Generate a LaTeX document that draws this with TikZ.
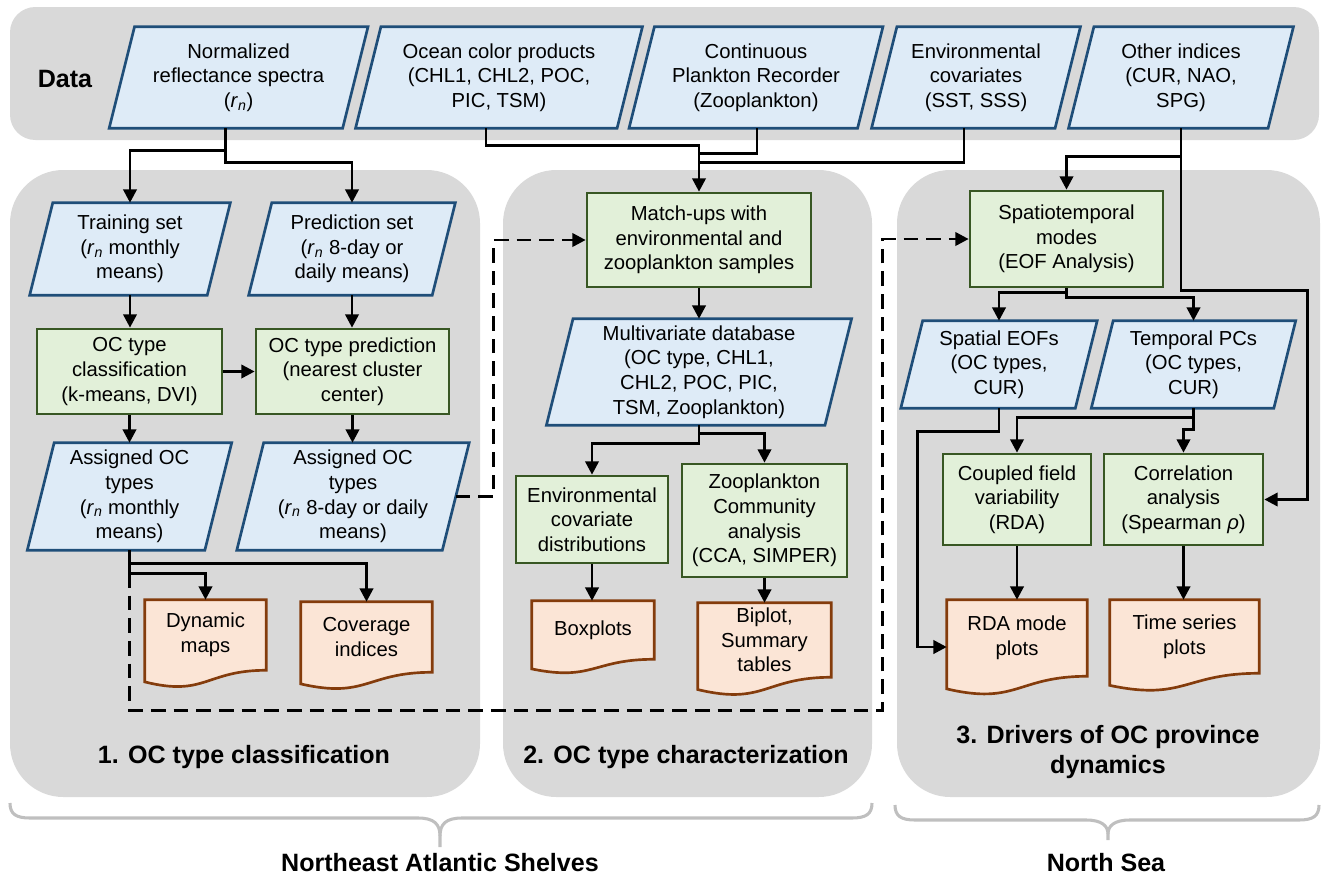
\documentclass[tikz,border=0pt]{standalone}
\usepackage{fontspec}
\setmainfont{Liberation Sans}
\usetikzlibrary{arrows.meta,calc}
\pgfdeclarelayer{bg}
\pgfdeclarelayer{shp}
\pgfsetlayers{bg,shp,main}
\definecolor{panelgray}{HTML}{D9D9D9}
\definecolor{blueF}{HTML}{DEEBF7}
\definecolor{blueB}{HTML}{1F4E79}
\definecolor{greenF}{HTML}{E2F0D9}
\definecolor{greenB}{HTML}{385723}
\definecolor{docF}{HTML}{FBE5D6}
\definecolor{docB}{HTML}{843C0C}
\definecolor{braceC}{HTML}{BFBFBF}
\newcommand\bodyfont{\fontsize{15.2pt}{18.4pt}\selectfont}
\newcommand\headfont{\fontsize{18.8pt}{22.5pt}\selectfont\bfseries}
\newcommand\rn{\textit{r}\textsubscript{\textit{n}}}
\tikzset{
 tbox/.style={inner sep=0pt, align=center, font=\bodyfont, text=black},
 sz/.style 2 args={minimum width=#1*0.75pt, minimum height=#2*0.75pt},
 pnode/.style={tbox, rectangle},
 gbox/.style={tbox, rectangle, draw=greenB, fill=greenF, line width=2pt},
 dnode/.style={tbox, rectangle},
 parashape/.style={draw=blueB, fill=blueF, line width=2pt},
 docshape/.style={draw=docB, fill=docF, line width=2pt},
 panel/.style={fill=panelgray, draw=none},
 conn/.style={line width=2.1pt, draw=black},
 arr/.style={conn, -{Triangle[length=10pt,width=10pt]}},
 dasharr/.style={arr, dash pattern=on 11pt off 6pt},
 head/.style={font=\headfont, align=center, inner sep=0pt},
 bracestyle/.style={draw=braceC, line width=2.3pt}
}
\newcommand\paral[1]{%
 \begin{pgfonlayer}{shp}
 \path[parashape] let \p1=(#1.north east), \p2=(#1.south west), \n1={0.125*(\y1-\y2)} in
 ({\x2+\n1*1pt},\y1) -- ({\x1+\n1*1pt},\y1) -- ({\x1-\n1*1pt},\y2) -- ({\x2-\n1*1pt},\y2) -- cycle;
 \end{pgfonlayer}}
\newcommand\docu[1]{%
 \begin{pgfonlayer}{shp}
 \path[docshape] (#1.north west) -- (#1.north east) -- (#1.south east) .. controls (#1.south) and ($(#1.north)!1.38!(#1.south)$) .. ($(#1.north west)!1.1646!(#1.south west)$) -- cycle;
 \end{pgfonlayer}}
\begin{document}
\begin{tikzpicture}[x=0.75pt,y=-0.75pt]
\useasboundingbox (0,0) rectangle (1321,875);
\begin{pgfonlayer}{bg}
\path[panel, rounded corners=19pt] (10,7) rectangle (1319,140);
\path[panel, rounded corners=40pt] (10,170) rectangle (480,797);
\path[panel, rounded corners=40pt] (503,170) rectangle (872,797);
\path[panel, rounded corners=40pt] (897,170) rectangle (1320,797);
\end{pgfonlayer}

\node[head] (datalbl) at (65,79) {Data};

% data row
\node[pnode, sz={233}{101}] (norm) at (238.6,77.5) {Normalized\\reflectance spectra\\(\rn)}; \paral{norm}
\node[pnode, sz={261}{101}] (ocean) at (499,77.5) {Ocean color products\\(CHL1, CHL2, POC,\\PIC, TSM)}; \paral{ocean}
\node[pnode, sz={228}{101}] (cpr) at (756,77.5) {Continuous\\Plankton Recorder\\(Zooplankton)}; \paral{cpr}
\node[pnode, sz={183}{101}] (env) at (976,77.5) {Environmental\\covariates\\(SST, SSS)}; \paral{env}
\node[pnode, sz={199}{101}] (other) at (1181,77.5) {Other indices\\(CUR, NAO,\\SPG)}; \paral{other}

% panel 1
\node[pnode, sz={177}{92}] (train) at (130,249) {Training set\\(\rn\ monthly\\means)}; \paral{train}
\node[pnode, sz={183}{92}] (pred) at (352,249) {Prediction set\\(\rn\ 8-day or\\daily means)}; \paral{pred}
\node[gbox, sz={185}{85}] (occlass) at (129.5,371.5) {OC type\\classification\\(k-means, DVI)};
\node[gbox, sz={193}{85}] (ocpred) at (352.5,371.5) {OC type prediction\\(nearest cluster\\center)};
\node[pnode, sz={177}{107}] (asgL) at (129.5,496.5) {Assigned OC\\types\\(\rn\ monthly\\means)}; \paral{asgL}
\node[pnode, sz={205}{107}] (asgR) at (353,496.5) {Assigned OC\\types\\(\rn\ 8-day or daily\\means)}; \paral{asgR}
\node[dnode, sz={121}{70}] (dyn) at (205.5,635) {Dynamic\\maps}; \docu{dyn}
\node[dnode, sz={131}{70}] (cov) at (366.5,637) {Coverage\\indices}; \docu{cov}

% panel 2
\node[gbox, sz={224}{94}] (match) at (699,240) {Match-ups with\\environmental and\\zooplankton samples};
\node[pnode, sz={278}{106}] (multi) at (699,372) {Multivariate database\\(OC type, CHL1,\\CHL2, POC, PIC,\\TSM, Zooplankton)}; \paral{multi}
\node[gbox, sz={152}{87}] (envd) at (592,519.5) {Environmental\\covariate\\distributions};
\node[gbox, sz={165}{113}] (zca) at (764.5,520.5) {Zooplankton\\Community\\analysis\\(CCA, SIMPER)};
\node[dnode, sz={122}{58}] (box) at (593,630) {Boxplots}; \docu{box}
\node[dnode, sz={133}{74}] (biplot) at (764.5,640) {Biplot,\\Summary\\tables}; \docu{biplot}

% panel 3
\node[gbox, sz={193}{96}] (spatio) at (1066.5,239) {Spatiotemporal\\modes\\(EOF Analysis)};
\node[pnode, sz={174}{87}] (seof) at (999,364.5) {Spatial EOFs\\(OC types,\\CUR)}; \paral{seof}
\node[pnode, sz={182}{87}] (tpc) at (1193.5,364.5) {Temporal PCs\\(OC types,\\CUR)}; \paral{tpc}
\node[gbox, sz={148}{91}] (coupled) at (1017,499.5) {Coupled field\\variability\\(RDA)};
\node[gbox, sz={159}{91}] (corr) at (1183.5,499.5) {Correlation\\analysis\\(Spearman \textit{ρ})};
\node[dnode, sz={140}{76}] (rda) at (1017,638) {RDA mode\\plots}; \docu{rda}
\node[dnode, sz={149}{73}] (ts) at (1184.5,636.5) {Time series\\plots}; \docu{ts}

% titles
\node[head] (t1) at (244,757) {1. OC type classification};
\node[head] (t2) at (686,757) {2. OC type characterization};
\node[head] (t3) at (1108,752) {3. Drivers of OC province\\dynamics};
\node[head] (nas) at (440,863) {Northeast Atlantic Shelves};
\node[head] (ns) at (1106,863) {North Sea};

% connectors
\draw[arr] ($(norm.south)+(-13,0)$) |- ($(train.north)+(0,-52)$) -- (train.north);
\draw[arr] ($(norm.south)+(-13,0)$) |- ($(pred.north)+(0,-40)$) -- (pred.north);
\draw[arr] ($(ocean.south)+(-13,0)$) |- ($(match.north)+(0,-46)$) -- (match.north);
\draw[conn] ($(cpr.south)+(1,0)$) |- ($(match.north)+(0,-38)$);
\draw[conn] ($(env.south)+(-12,0)$) |- ($(match.north)+(0,-29)$);

\draw[arr] (train.south) -- (train.south |- occlass.north);
\draw[arr] (pred.south) -- (pred.south |- ocpred.north);
\draw[arr] (occlass.east) -- (ocpred.west);
\draw[arr] (occlass.south) -- (occlass.south |- asgL.north);
\draw[arr] (ocpred.south) -- (ocpred.south |- asgR.north);
\draw[arr] (asgL.south) |- ($(dyn.north)+(0,-26)$) -- (dyn.north);
\draw[arr] (asgL.south) |- ($(cov.north)+(0,-38)$) -- (cov.north);
\draw[dasharr] (asgL.south) -- ++(0,160) -| ($(spatio.west)+(-86,0)$) -- (spatio.west);
\draw[dasharr] (asgR.east) -- ++(38,0) |- (match.west);

\draw[arr] (match.south) -- (multi.north);
\draw[arr] (multi.south) |- ($(envd.north)+(0,-31)$) -- (envd.north);
\draw[arr] (multi.south) |- ($(zca.north)+(0,-29)$) -- (zca.north);
\draw[arr] (envd.south) -- (envd.south |- box.north);
\draw[arr] (zca.south) -- (zca.south |- biplot.north);

\draw[arr] (other.south) |- ($(spatio.north)+(0,-33)$) -- (spatio.north);
\draw[arr] (other.south) -- ++(0,162) -| ($(corr.east)+(43,0)$) -- (corr.east);
\draw[arr] (spatio.south) |- ($(seof.north)+(0,-28)$) -- (seof.north);
\draw[arr] (spatio.south) |- ($(tpc.north)+(0,-23)$) -- (tpc.north);
\draw[arr] (seof.south) -- ++(0,23) -| ($(rda.west)+(-29,9)$) -- ($(rda.west)+(0,9)$);
\draw[arr] (tpc.south) |- ($(coupled.north)+(0,-35)$) -- (coupled.north);
\draw[arr] (tpc.south) |- ($(corr.north)+(0,-23)$) -- (corr.north);
\draw[arr] (coupled.south) -- (coupled.south |- rda.north);
\draw[arr] (corr.south) -- (corr.south |- ts.north);

% braces
\draw[bracestyle] (10,803) .. controls (10,814) and (16,818) .. (30,818) -- (418,818) .. controls (434,818) and (440,824) .. (440,836) -- (440,847);
\draw[bracestyle] (872,803) .. controls (872,814) and (866,818) .. (852,818) -- (462,818) .. controls (446,818) and (440,824) .. (440,836);
\draw[bracestyle] (895,805) .. controls (895,816) and (901,820) .. (915,820) -- (1086,820) .. controls (1102,820) and (1108,826) .. (1108,834) -- (1108,840);
\draw[bracestyle] (1319,805) .. controls (1319,816) and (1313,820) .. (1299,820) -- (1130,820) .. controls (1114,820) and (1108,826) .. (1108,834);
\end{tikzpicture}
\end{document}
